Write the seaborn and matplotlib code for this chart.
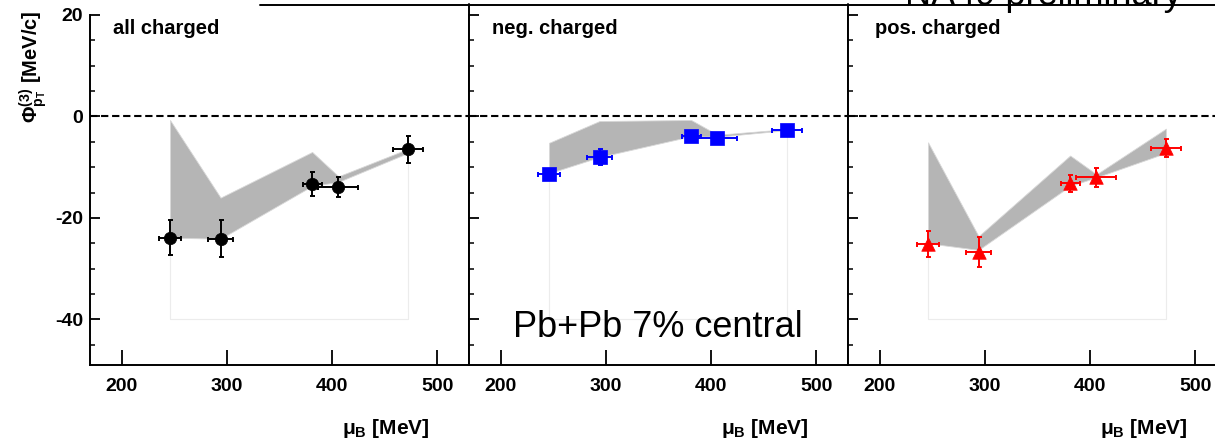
import numpy as np
import pandas as pd
import matplotlib
matplotlib.use("Agg")
import matplotlib.pyplot as plt
from matplotlib.lines import Line2D
from matplotlib.ticker import MultipleLocator
import seaborn as sns

# ---------------- data ----------------
mu_B = [246, 294, 381, 406, 472]
mu_B_err = [10, 11.5, 9, 19, 14.5]
panel_labels = ["all charged", "neg. charged", "pos. charged"]

phi_all = [-23.9, -24.1, -13.3, -13.9, -6.5]
phi_all_err = [3.4, 3.7, 2.4, 2.0, 2.7]
sys_all_hi = [-0.7, -16.0, -7.0, -11.8, -6.4]
sys_all_lo = [-23.9, -24.1, -13.7, -12.9, -7.2]

phi_neg = [-11.4, -8.0, -3.9, -4.2, -2.6]
phi_neg_err = [1.0, 1.6, 1.0, 1.0, 1.0]
sys_neg_hi = [-5.2, -0.9, -0.7, -3.6, -2.5]
sys_neg_lo = [-11.2, -8.0, -3.9, -4.0, -2.7]

phi_pos = [-25.1, -26.7, -13.2, -12.0, -6.2]
phi_pos_err = [2.6, 3.0, 1.7, 1.9, 1.8]
sys_pos_hi = [-5.1, -23.6, -7.7, -11.4, -2.4]
sys_pos_lo = [-25.0, -26.3, -13.7, -12.0, -7.2]

x_ticks = [200, 300, 400, 500]
y_ticks = [-40, -20, 0, 20]

# ---------------- style ----------------
sns.set_theme(style="ticks")
plt.rcParams["font.family"] = ["Liberation Sans", "DejaVu Sans"]
plt.rcParams["font.weight"] = "bold"
plt.rcParams["mathtext.fontset"] = "custom"
plt.rcParams["mathtext.rm"] = "Liberation Sans:bold"
plt.rcParams["mathtext.it"] = "Liberation Sans:bold"
plt.rcParams["mathtext.bf"] = "Liberation Sans:bold"
plt.rcParams["axes.unicode_minus"] = False
for k in ["text.color", "axes.labelcolor", "xtick.color", "ytick.color", "axes.edgecolor"]:
    plt.rcParams[k] = "black"

W, H = 1215, 444
fig = plt.figure(figsize=(W / 100, H / 100), dpi=100)
fig.patch.set_facecolor("white")

series = [
    (phi_all, phi_all_err, sys_all_hi, sys_all_lo, "black", "o", 80),
    (phi_neg, phi_neg_err, sys_neg_hi, sys_neg_lo, "#0000ff", "s", 95),
    (phi_pos, phi_pos_err, sys_pos_hi, sys_pos_lo, "#ff0000", "^", 95),
]
lefts = [90, 469, 848]
label_x = [0.06, 0.062, 0.07]
top_px, bot_px = 15, 365
width_px = 379

for i, (left, (y, yerr, hi, lo, col, mk, ms)) in enumerate(zip(lefts, series)):
    ax = fig.add_axes([left / W, (H - bot_px) / H, width_px / W, (bot_px - top_px) / H])
    ax.set_facecolor("white")
    df = pd.DataFrame({"mu_B": mu_B, "phi": y})

    # faint frame of the systematic histogram
    ax.plot([mu_B[0], mu_B[0], mu_B[-1], mu_B[-1]], [lo[0], -40, -40, lo[-1]],
            color="#ececec", lw=0.8, zorder=1)
    # systematic band
    ax.fill_between(mu_B, lo, hi, color="#b5b5b5", edgecolor="#d8d8d8", lw=0.6, zorder=2)
    # zero line
    ax.axhline(0, color="black", lw=1.5, ls=(0, (3.5, 1.8)), zorder=3)
    # error bars
    ax.errorbar(mu_B, y, xerr=mu_B_err, yerr=yerr, fmt="none", ecolor=col,
                elinewidth=1.4, capsize=1.8, capthick=1.4, zorder=4)
    sns.scatterplot(data=df, x="mu_B", y="phi", ax=ax, color=col, marker=mk, s=ms,
                    edgecolor=col, linewidth=0.5, zorder=5, legend=False)

    ax.set_xlim(170, 530)
    ax.set_ylim(-49, 20)
    ax.set_xticks(x_ticks)
    ax.set_yticks(y_ticks)
    ax.yaxis.set_minor_locator(MultipleLocator(5))
    ax.set_xlabel("")
    ax.set_ylabel("")
    ax.tick_params(axis="x", which="major", direction="in", length=11, width=1.3,
                   labelsize=14, pad=9, top=False, color="black", labelcolor="black")
    ax.tick_params(axis="x", which="minor", bottom=False, top=False)
    ax.tick_params(axis="y", which="major", direction="in", length=7.5, width=1.3,
                   labelsize=14, pad=5, right=False, labelleft=(i == 0),
                   color="black", labelcolor="black")
    ax.tick_params(axis="y", which="minor", direction="in", length=3.8, width=1.1,
                   right=False, color="black")
    for lab in ax.get_xticklabels() + ax.get_yticklabels():
        lab.set_fontweight("bold")
    for sp in ["left", "bottom", "right"]:
        ax.spines[sp].set_color("black")
        ax.spines[sp].set_linewidth(1.4)
    ax.spines["top"].set_visible(False)

    ax.text(label_x[i], 0.96, panel_labels[i], transform=ax.transAxes,
            ha="left", va="center", fontsize=14.5, fontweight="bold", color="black")
    ax.text(0.895, -0.18, "μ$_{B}$ [MeV]", transform=ax.transAxes,
            ha="right", va="center", fontsize=15, fontweight="bold", color="black",
            clip_on=False)

    if i > 0:
        fig.add_artist(Line2D([left / W, left / W], [(H - 15) / H, (H - 4.5) / H],
                              transform=fig.transFigure, color="black", lw=1.4))

# top line
fig.add_artist(Line2D([260 / W, 1.0], [(H - 5) / H, (H - 5) / H],
                      transform=fig.transFigure, color="black", lw=1.4))

# y label
fig.text(33 / W, 1 - 67 / H, "Φ$^{(3)}_{p_{T}}$ [MeV/c]", rotation=90,
         ha="center", va="center", fontsize=14.5, fontweight="bold", color="black")

# annotations
fig.text(513 / W, 1 - 327 / H, "Pb+Pb 7% central", ha="left", va="center",
         fontsize=26, fontweight="normal", color="black")
fig.text(905 / W, 1 - 5 / H, "NA49 preliminary", ha="left", va="baseline",
         fontsize=26, fontweight="normal", color="black")

fig.savefig("out.png", dpi=100, facecolor="white")
